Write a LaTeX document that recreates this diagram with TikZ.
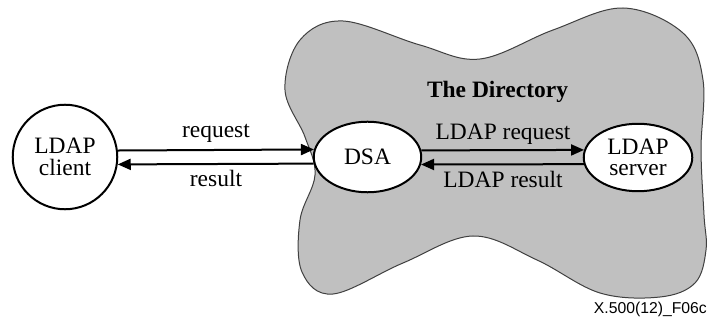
\documentclass[tikz,border=0pt]{standalone}
\usepackage{fontspec}
\setmainfont{Liberation Serif}
\newfontfamily\figidfont{Liberation Sans}
\usetikzlibrary{arrows.meta,shapes.geometric}
\definecolor{dirgray}{RGB}{192,192,192}
\definecolor{diredge}{RGB}{64,64,64}

\begin{document}
\begin{tikzpicture}[x=0.75pt,y=0.75pt,yscale=-1,xscale=1,
  entity/.style={draw=black, line width=1.5pt, fill=white, inner sep=0.75pt, align=center, font=\fontsize{17.6}{16}\selectfont},
  msg/.style={line width=1.5pt, -{Triangle[length=9.75pt,width=8.25pt]}},
  lbl/.style={anchor=base, inner sep=0.75pt, font=\fontsize{17.6}{20}\selectfont}]
\useasboundingbox (0,0) rectangle (710,320);

%Shape: Free Drawing [The Directory]
\draw [color=diredge, fill=dirgray, line width=0.75pt] plot [smooth cycle, tension=0.6] coordinates {(343,21) (420,45) (480,59) (553,30) (623,8) (683,33) (703,80) (701,150) (704,215) (706,250) (695,283) (660,297) (600,293) (537,260) (473,236) (403,263) (333,294) (302,272) (300,220) (315,175) (305,137) (285,90) (300,40)};

%Shape: Circle
\draw (65,157) node [entity, circle, minimum size=78.4pt] (client) {LDAP\\client};
%Shape: Ellipse
\draw (367.5,157) node [entity, ellipse, minimum width=80.6pt, minimum height=52.9pt] (dsa) {DSA};
%Shape: Ellipse
\draw (638,157.5) node [entity, ellipse, minimum width=81.4pt, minimum height=50.6pt] (server) {LDAP\\server};

%Straight Lines
\draw [msg] (client.7.5) -- (dsa.172.5);
%Straight Lines
\draw [msg] (dsa.187.5) -- (client.352.5);
%Straight Lines
\draw [msg] (dsa.7.5) -- (server.172.5);
%Straight Lines
\draw [msg] (server.187.5) -- (dsa.352.5);

% Text Node
\draw (216,138) node [lbl] (reqlbl) {request};
% Text Node
\draw (216,187) node [lbl] (reslbl) {result};
% Text Node
\draw (503,140) node [lbl] (ldapreqlbl) {LDAP request};
% Text Node
\draw (503,188) node [lbl] (ldapreslbl) {LDAP result};
% Text Node
\draw (497.5,98) node [lbl, font=\fontsize{17.6}{20}\selectfont\bfseries] (dirlbl) {The Directory};
% Text Node
\draw (708,313) node [anchor=base east, inner sep=0.75pt, font=\figidfont\fontsize{11.8}{14}\selectfont] (figid) {X.500(12)\_F06c};

\end{tikzpicture}
\end{document}
